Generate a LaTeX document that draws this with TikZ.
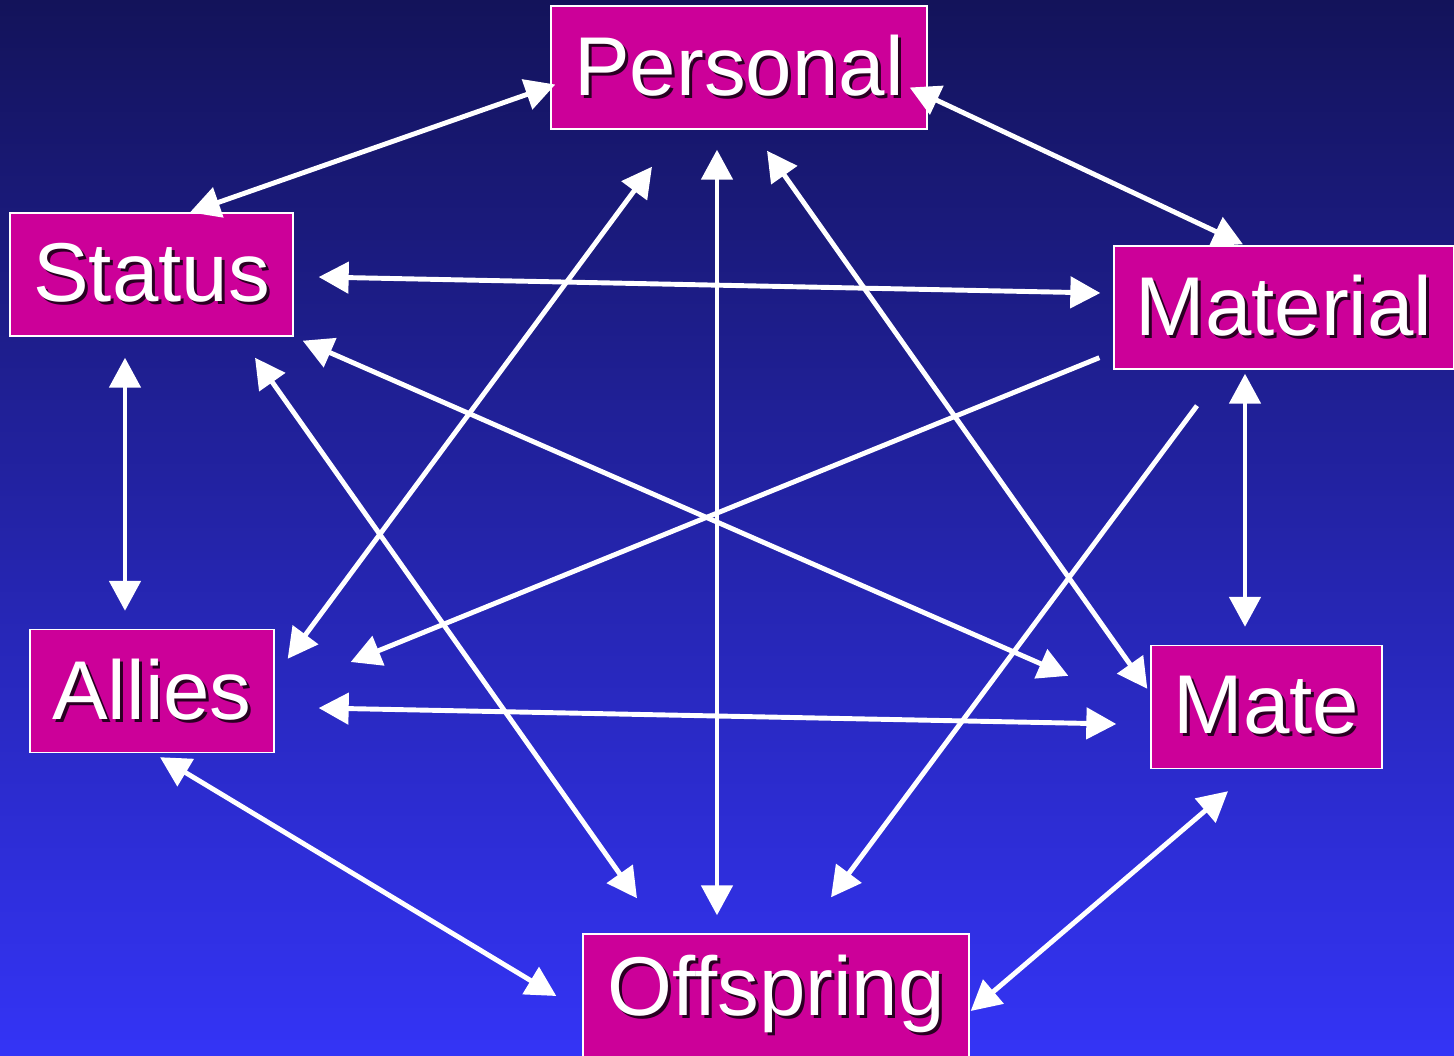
\documentclass[tikz,border=0pt]{standalone}
\usepackage{fontspec}
\setmainfont{Liberation Sans}
\usepackage{tikz}
\usetikzlibrary{arrows.meta,calc}
\definecolor{skytop}{HTML}{13135A}
\definecolor{skymid}{HTML}{2626B2}
\definecolor{skybot}{HTML}{3434F6}
\definecolor{boxpink}{HTML}{CC0099}
\definecolor{txtshadow}{HTML}{2A0022}
\newcommand{\shtext}[1]{\leavevmode\rlap{\kern1.7pt\raisebox{-1.7pt}{\color{txtshadow}#1}}#1}
\tikzset{
  motive/.style={rectangle,draw=white,line width=0.8pt,fill=boxpink,text=white,
    minimum height=2.46cm,inner sep=0pt,font=\fontsize{47.5}{52}\selectfont},
  link/.style={draw=white,line width=2.8pt,{Triangle[length=0.6cm,width=0.62cm]}-{Triangle[length=0.6cm,width=0.62cm]}},
  halflink/.style={draw=white,line width=2.8pt,-{Triangle[length=0.6cm,width=0.62cm]}}
}

\begin{document}
\begin{tikzpicture}[x=0.02cm,y=-0.02cm]
\useasboundingbox (0,0) rectangle (1454,1055);
\shade[top color=skytop,middle color=skymid,bottom color=skybot] (0,0) rectangle (1454,1055);

% the six boxes
\node[motive,minimum width=7.52cm] (personal) at (739,67.5) {\shtext{Personal}};
\node[motive,minimum width=5.66cm] (status) at (151.5,274.5) {\shtext{Status}};
\node[motive,minimum width=6.8cm] (material) at (1284,307.5) {\shtext{Material}};
\node[motive,minimum width=4.88cm] (allies) at (152,691) {\shtext{Allies}};
\node[motive,minimum width=4.62cm] (mate) at (1266.5,707) {\shtext{Mate}};
\node[motive,minimum width=7.72cm] (offspring) at (776,995.5) {\shtext{Offspring}};

% outer ring
\draw[link] ([shift={(38.5,0)}]status.north) -- ([shift={(5,17)}]personal.west);
\draw[link] ([shift={(-18,20)}]personal.east) -- ([shift={(-41,-1)}]material.north);
\draw[link] ([shift={(-26.5,21)}]status.south) -- ([shift={(-27,-18)}]allies.north);
\draw[link] ([shift={(-39,4)}]material.south) -- ([shift={(-21.5,-18)}]mate.north);
\draw[link] ([shift={(8,4)}]allies.south) -- ([shift={(-26,0.5)}]offspring.west);
\draw[link] ([shift={(-38.5,22)}]mate.south) -- ([shift={(1,15.5)}]offspring.east);

% cross links
\draw[link] ([shift={(25,2.5)}]status.east) -- ([shift={(-13,-14.5)}]material.west);
\draw[link] ([shift={(44,17)}]allies.east) -- ([shift={(-34,17)}]mate.west);
\draw[link] ([shift={(-22,20)}]personal.south) -- ([shift={(-59,-18)}]offspring.north);
\draw[link] ([shift={(-87,37)}]personal.south) -- ([shift={(13,30)}]allies.north east);
\draw[link] ([shift={(28,21)}]personal.south) -- ([shift={(-3,44)}]mate.north west);
\draw[link] ([shift={(9,4)}]status.south east) -- ([shift={(-82,31)}]mate.north west);
\draw[link] ([shift={(103.5,21)}]status.south) -- ([shift={(-139,-35)}]offspring.north);
\draw[halflink] ([shift={(-14,-12)}]material.south west) -- ([shift={(76,-29)}]allies.east);
\draw[halflink] ([shift={(-87,36)}]material.south) -- ([shift={(55,-36)}]offspring.north);
\end{tikzpicture}
\end{document}
